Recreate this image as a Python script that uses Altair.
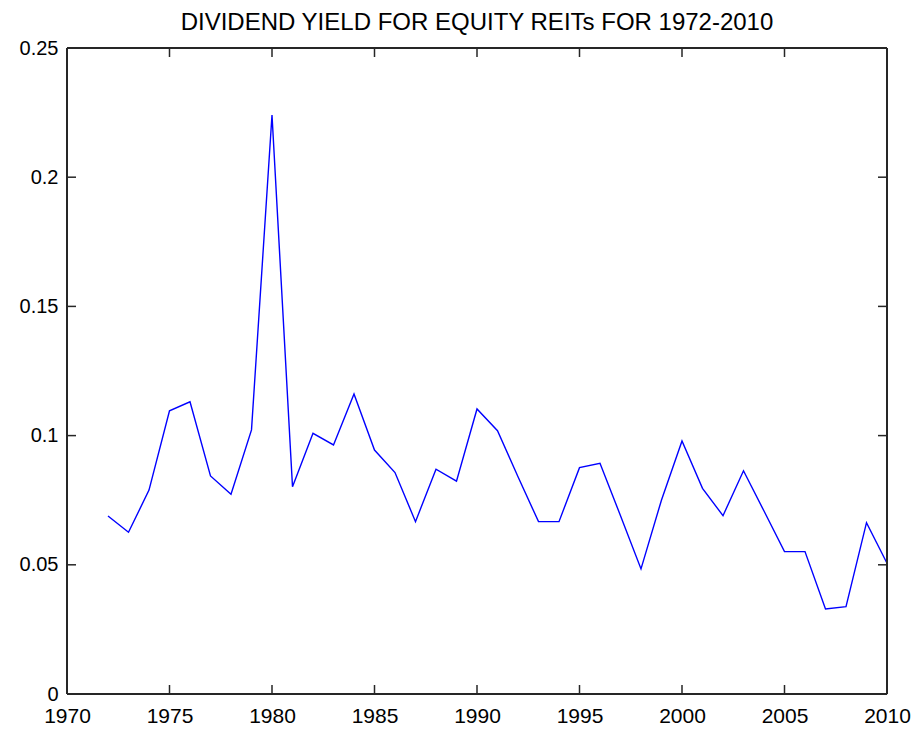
import altair as alt
import pandas as pd

years = list(range(1972, 2011))
dividend_yield = [
    0.0689, 0.0626, 0.0789, 0.1096, 0.1131, 0.0844, 0.0773, 0.1022, 0.2241, 0.0802,
    0.1009, 0.0964, 0.1161, 0.0944, 0.0857, 0.0667, 0.0870, 0.0824, 0.1103, 0.1019,
    0.0841, 0.0667, 0.0667, 0.0876, 0.0893, 0.0690, 0.0484, 0.0751, 0.0979, 0.0796,
    0.0690, 0.0864, 0.0708, 0.0551, 0.0551, 0.0329, 0.0338, 0.0663, 0.0506,
]
x_ticks = [1970, 1975, 1980, 1985, 1990, 1995, 2000, 2005, 2010]
y_ticks = [0, 0.05, 0.1, 0.15, 0.2, 0.25]
title_text = "DIVIDEND YIELD FOR EQUITY REITs FOR 1972-2010"

W, H = 820, 646
TL = 9
FONT = "Liberation Sans"
AXC = "#262626"

df = pd.DataFrame({"year": years, "yield": dividend_yield})
xt = pd.DataFrame({"t": x_ticks})
yt = pd.DataFrame({"t": y_ticks})

xscale = alt.Scale(domain=[1970, 2010], nice=False, zero=False)
yscale = alt.Scale(domain=[0, 0.25], nice=False)

line = alt.Chart(df).mark_line(color="#0000FF", strokeWidth=1.4).encode(
    x=alt.X("year:Q", scale=xscale,
            axis=alt.Axis(values=x_ticks, format="d", title=None, ticks=False, domain=False,
                          grid=False, labelFlush=False, labelOverlap=False, labelPadding=11,
                          labelFontSize=21, labelFont=FONT, labelColor="#000")),
    y=alt.Y("yield:Q", scale=yscale,
            axis=alt.Axis(values=y_ticks, format="~g", title=None, ticks=False, domain=False,
                          grid=False, labelFlush=False, labelOverlap=False, labelPadding=9,
                          labelFontSize=20, labelFont=FONT, labelColor="#000")),
)

tick_style = dict(color=AXC, strokeWidth=1.5)
xb = alt.Chart(xt).mark_rule(**tick_style).encode(
    x=alt.X("t:Q", scale=xscale), y=alt.value(H), y2=alt.value(H - TL))
xtop = alt.Chart(xt).mark_rule(**tick_style).encode(
    x=alt.X("t:Q", scale=xscale), y=alt.value(0), y2=alt.value(TL))
yl = alt.Chart(yt).mark_rule(**tick_style).encode(
    y=alt.Y("t:Q", scale=yscale), x=alt.value(0), x2=alt.value(TL))
yr = alt.Chart(yt).mark_rule(**tick_style).encode(
    y=alt.Y("t:Q", scale=yscale), x=alt.value(W), x2=alt.value(W - TL))

box_style = dict(color=AXC, strokeWidth=2)
box = [
    alt.Chart(xt).mark_rule(**box_style).encode(x=alt.value(0), x2=alt.value(W), y=alt.value(0)),
    alt.Chart(xt).mark_rule(**box_style).encode(x=alt.value(0), x2=alt.value(W), y=alt.value(H)),
    alt.Chart(xt).mark_rule(**box_style).encode(y=alt.value(0), y2=alt.value(H), x=alt.value(0)),
    alt.Chart(xt).mark_rule(**box_style).encode(y=alt.value(0), y2=alt.value(H), x=alt.value(W)),
]

chart = alt.layer(line, xb, xtop, yl, yr, *box).properties(
    width=W, height=H,
    title=alt.TitleParams(title_text, fontSize=24, font=FONT, fontWeight="normal",
                          color="#000", offset=3),
    autosize=alt.AutoSizeParams(type="none"),
    padding={"left": 59, "top": 40, "right": 24, "bottom": 33},
).configure_view(strokeWidth=0).configure(background="white")

chart.save("out.html", embed_options={"renderer": "svg", "actions": False})
